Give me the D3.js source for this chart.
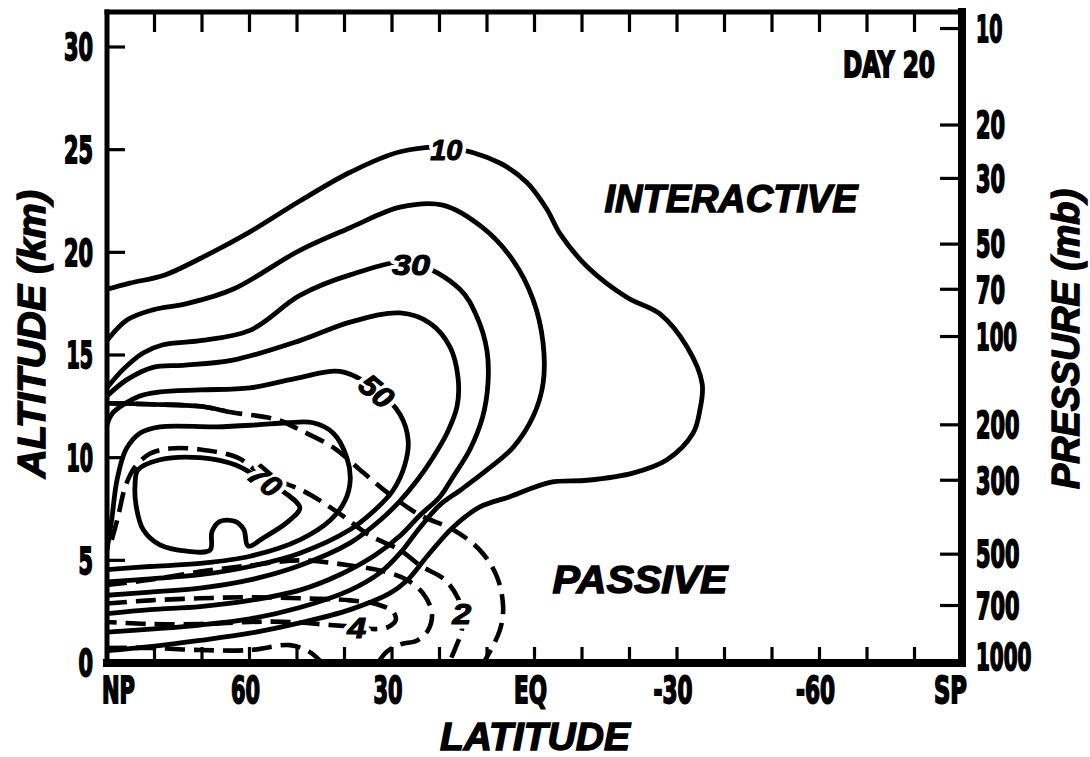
<!DOCTYPE html>
<html>
<head>
<meta charset="utf-8">
<script src="https://cdn.jsdelivr.net/npm/d3@7/dist/d3.min.js"></script>
<style>
html,body{margin:0;padding:0;background:#fff;}
svg{display:block;}
</style>
</head>
<body>
<svg id="chart" width="1090" height="757"></svg>
<script>
// ---------------- data ----------------
const latMinorTicks = [80,70,60,50,40,30,20,10,0,-10,-20,-30,-40,-50,-60,-70,-80];
const latLabelValues = [90,60,30,0,-30,-60,-90];
const latLabels = ["NP","60","30","EQ","-30","-60","SP"];
const altTicks = [0,5,10,15,20,25,30];
const altLabels = ["0","5","10","15","20","25","30"];
const pressureLabels = ["10","20","30","50","70","100","200","300","500","700","1000"];
const pressureAltitudes = [30.9,26.2,23.6,20.4,18.2,15.9,11.6,8.9,5.3,2.8,0.3];

// interactive (solid) contours: [latitude, altitude km]
const interactive10 = [[90,18.2],[85.2,18.5],[77.8,18.9],[70.4,19.7],[59.9,21.0],[49.4,22.5],[38.8,23.9],[28.3,24.9],[18.2,25.1],[7.3,24.35],[1.6,23.4],[-2.6,22.1],[-5.4,20.9],[-11.1,19.3],[-19.5,17.8],[-26.4,17.0],[-32.1,15.4],[-35.3,13.6],[-34.8,12.3],[-33.4,11.2],[-27.9,9.9],[-20.7,9.25],[-11.1,8.9],[-3.3,8.8],[5.2,8.1],[11.5,7.6],[17.2,6.6],[22.6,5.2],[26.9,4.0],[30.4,3.4],[38.8,2.6],[49.4,1.95],[59.9,1.45],[70.4,1.1],[80.9,0.8],[90,0.6]];
const interactive20 = [[90,15.7],[85.8,16.7],[80.3,17.2],[73.2,17.5],[63.5,18.2],[49.4,20.1],[38.8,21.2],[28.3,22.2],[19.3,22.3],[10.9,21.2],[4.5,19.6],[0.3,17.7],[-1.8,15.6],[-1.8,13.6],[0.3,12.0],[4.5,10.5],[10.0,9.4],[15.7,8.4],[19.9,7.7],[24.1,6.6],[28.3,5.35],[32.5,4.4],[38.8,3.55],[49.4,2.7],[59.9,2.15],[70.4,1.85],[80.9,1.65],[90,1.5]];
const interactive30 = [[90,13.4],[86.6,14.3],[82.4,15.1],[78.2,15.5],[70.4,15.7],[59.9,16.2],[49.4,17.9],[38.8,18.9],[26.2,19.5],[15.7,18.2],[12.1,16.85],[10.0,15.2],[9.8,13.6],[10.9,12.0],[13.6,10.4],[17.2,9.05],[19.9,8.1],[24.1,7.2],[28.3,6.2],[33.6,5.25],[41.0,4.3],[49.4,3.55],[59.9,3.05],[70.4,2.75],[80.9,2.6],[90,2.4]];
const interactive40 = [[90,13.0],[85.8,13.8],[80.3,14.4],[74.0,14.5],[63.5,14.75],[49.4,15.7],[38.8,16.6],[28.3,17.05],[22.0,16.55],[17.8,15.4],[16.1,13.9],[16.3,12.5],[18.4,11.2],[21.4,10.0],[24.7,8.9],[28.3,7.9],[32.5,6.95],[38.8,5.85],[49.4,4.75],[59.9,4.05],[70.4,3.65],[80.9,3.45],[90,3.3]];
const interactive50 = [[90,11.6],[88.7,12.2],[83.1,13.0],[78.85,13.2],[70.4,13.3],[59.9,13.4],[49.4,13.9],[41.0,14.2],[33.2,13.3],[28.3,12.1],[26.6,10.85],[27.3,9.65],[29.8,8.4],[33.6,7.45],[38.8,6.5],[49.4,5.35],[59.9,4.7],[70.4,4.3],[80.9,4.1],[90,3.95]];
const interactive60 = [[90,5.5],[89.0,7.0],[87.9,8.9],[86.0,10.4],[83.0,11.2],[78.85,11.5],[66.85,11.5],[58.4,11.6],[52.1,11.7],[46.6,11.7],[42.4,11.2],[39.5,10.0],[38.8,8.9],[39.9,7.9],[43.0,6.95],[49.4,6.0],[59.9,5.2],[70.4,4.85],[80.9,4.7],[90,4.55]];
const interactive70 = [[83.5,9.4],[78.85,9.9],[70.4,10.0],[63.05,9.65],[57.9,9.0],[52.0,8.2],[49.4,7.55],[52.1,6.85],[56.7,6.15],[60.3,5.7],[61.2,6.5],[63.1,6.9],[66.2,6.9],[67.9,6.4],[68.3,5.5],[73.2,5.45],[78.85,5.75],[82.4,6.5],[83.9,7.7],[84.1,8.65]];

// passive (dashed) contours
const passive1 = [[90,12.65],[80.9,12.6],[70.4,12.5],[63.5,12.2],[54.2,11.85],[49.4,11.35],[42.4,10.5],[36.7,9.4],[30.4,8.2],[24.1,7.2],[17.2,6.5],[11.5,5.5],[7.9,4.2],[6.6,2.7],[7.3,1.6],[10.0,0.3],[10.8,0.0]];
const passive2 = [[89.0,6.0],[87.7,7.1],[86.2,8.55],[84.1,9.55],[80.9,10.2],[76.7,10.45],[70.4,10.4],[62.5,10.0],[57.5,9.2],[48.85,8.4],[41.5,7.35],[34.6,6.2],[28.3,5.5],[24.1,4.75],[18.85,4.05],[16.1,3.15],[15.3,2.45],[15.3,1.6],[16.7,0.7],[18.0,0.0]];
const passive3 = [[90,3.8],[80.9,4.05],[70.4,4.45],[59.9,4.75],[49.4,5.0],[38.8,4.75],[31.5,4.45],[26.9,4.05],[23.5,3.4],[21.6,2.45],[22.4,1.6],[24.7,1.1],[28.3,0.9],[31.1,0.55],[33.0,0.0]];
const passive4 = [[90,2.9],[80.9,3.05],[70.4,3.15],[59.9,3.2],[49.4,3.15],[38.8,3.05],[33.0,2.85],[29.8,2.5],[29.2,2.1],[30.85,1.75],[33.6,1.65],[37.4,1.75],[43.0,1.85],[51.5,2.0],[59.9,2.0],[70.4,1.9],[80.9,1.9],[90,2.0]];
const passive5 = [[90,0.73],[80.9,0.73],[70.4,0.63],[59.9,0.63],[51.5,0.87],[47.3,0.53],[44.7,0.0]];

// contour labels
const contourLabelText = ["10","30","50","70","2","4"];
const contourLabelLat = [18.6,26.0,33.2,56.7,15.3,37.4];
const contourLabelAlt = [25.0,19.4,13.25,8.9,2.45,1.75];

// ---------------- drawing ----------------
const svg = d3.select("#chart");
svg.append("rect").attr("width",1090).attr("height",757).attr("fill","#fff");

const x = d3.scaleLinear().domain([90,-90]).range([107,962]);
const y = d3.scaleLinear().domain([0,30]).range([663,47]);
const plotTop = 12;

const condensed = "'Liberation Sans Narrow','DejaVu Sans Condensed','Liberation Sans',Arial,sans-serif";
const italicFont = "'Liberation Sans',Arial,sans-serif";

svg.append("defs").append("clipPath").attr("id","plotclip")
  .append("rect").attr("x",x(90)).attr("y",plotTop).attr("width",x(-90)-x(90)).attr("height",y(0)-plotTop);

const line = d3.line().x(d=>x(d[0])).y(d=>y(d[1])).curve(d3.curveCatmullRom.alpha(0.5));
const lineClosed = d3.line().x(d=>x(d[0])).y(d=>y(d[1])).curve(d3.curveCatmullRomClosed.alpha(0.5));

const g = svg.append("g").attr("clip-path","url(#plotclip)");

const solidOpen = [interactive10, interactive20, interactive30, interactive40, interactive50, interactive60];
g.selectAll(".solid").data(solidOpen).join("path")
  .attr("d", line).attr("fill","none").attr("stroke","#000").attr("stroke-width",4.8)
  .attr("stroke-linecap","round").attr("stroke-linejoin","round");
g.append("path").datum(interactive70).attr("d", lineClosed).attr("fill","none")
  .attr("stroke","#000").attr("stroke-width",4.8);

const passive = [passive1, passive2, passive3, passive4, passive5];
g.selectAll(".dashed").data(passive).join("path")
  .attr("d", line).attr("fill","none").attr("stroke","#000").attr("stroke-width",4.6)
  .attr("stroke-dasharray","20,9").attr("stroke-linecap","butt");
// continuous start of the outer passive contour near the pole
g.append("path").datum(passive1).attr("d", line).attr("fill","none").attr("stroke","#000")
  .attr("stroke-width",4.6).attr("stroke-dasharray","118,4000");

// contour labels with white halo
const labelRot = {"50":40,"70":40};
const labelLen = {"10":32,"30":38,"50":35,"70":33,"2":19,"4":19};
const labs = contourLabelText.map((t,i)=>({t, lat:contourLabelLat[i], alt:contourLabelAlt[i]}));
["halo","ink"].forEach(layer=>{
  svg.selectAll(".cl-"+layer).data(labs).join("text")
    .attr("transform", d=>`translate(${x(d.lat)},${y(d.alt)}) rotate(${labelRot[d.t]||0})`)
    .attr("text-anchor","middle").attr("dy","0.36em")
    .attr("font-family", italicFont).attr("font-weight","bold").attr("font-style","italic")
    .attr("font-size",30)
    .attr("textLength", d=>labelLen[d.t]).attr("lengthAdjust","spacingAndGlyphs")
    .attr("fill", layer==="halo" ? "#fff" : "#000")
    .attr("stroke", layer==="halo" ? "#fff" : "#000")
    .attr("stroke-width", layer==="halo" ? 9 : 1.1)
    .attr("stroke-linejoin","round")
    .text(d=>d.t);
});

// ---------------- frame & ticks ----------------
const frame = svg.append("g").attr("stroke","#000").attr("stroke-linecap","square");
frame.append("line").attr("x1",x(90)).attr("x2",x(-90)).attr("y1",plotTop).attr("y2",plotTop).attr("stroke-width",5);
frame.append("line").attr("x1",x(90)).attr("x2",x(-90)).attr("y1",y(0)).attr("y2",y(0)).attr("stroke-width",8);
frame.append("line").attr("x1",x(90)).attr("x2",x(90)).attr("y1",plotTop).attr("y2",y(0)).attr("stroke-width",5);
frame.append("line").attr("x1",x(-90)).attr("x2",x(-90)).attr("y1",plotTop).attr("y2",y(0)).attr("stroke-width",8);

const ticks = svg.append("g").attr("stroke","#000").attr("stroke-width",3.2);
ticks.selectAll(".tt").data(latMinorTicks).join("line")
  .attr("x1",d=>x(d)).attr("x2",d=>x(d)).attr("y1",plotTop).attr("y2",plotTop+20);
ticks.selectAll(".tb").data(latMinorTicks).join("line")
  .attr("x1",d=>x(d)).attr("x2",d=>x(d)).attr("y1",y(0)).attr("y2",y(0)-16);
ticks.selectAll(".tl").data(altTicks.filter(d=>d>0)).join("line")
  .attr("x1",x(90)).attr("x2",x(90)+18).attr("y1",d=>y(d)).attr("y2",d=>y(d));
ticks.selectAll(".tr").data(pressureAltitudes.slice(0,-1)).join("line")
  .attr("x1",x(-90)).attr("x2",x(-90)-22).attr("y1",d=>y(d)).attr("y2",d=>y(d));

function labelWidth(s){
  let w=0;
  for(const c of s){
    w += c==='1'?12 : c==='-'?10 : c===' '?8 : /[0-9]/.test(c)?14.5 : 16.5;
  }
  return w;
}
function tickText(sel){
  return sel.attr("font-family",condensed).attr("font-weight","bold").attr("font-size",37)
    .attr("fill","#000").attr("stroke","#000").attr("stroke-width",1.8)
    .attr("textLength",d=>labelWidth(d)).attr("lengthAdjust","spacingAndGlyphs");
}
// left altitude labels
tickText(svg.selectAll(".yl").data(altLabels).join("text"))
  .attr("x",93).attr("y",(d,i)=>y(altTicks[i])).attr("dy","0.36em").attr("text-anchor","end")
  .text(d=>d);
// right pressure labels
tickText(svg.selectAll(".pl").data(pressureLabels).join("text"))
  .attr("x",976).attr("y",(d,i)=>y(pressureAltitudes[i])).attr("dy","0.36em").attr("text-anchor","start")
  .text(d=>d);
// bottom latitude labels
tickText(svg.selectAll(".xl").data(latLabels).join("text"))
  .attr("x",(d,i)=> i===0 ? x(latLabelValues[i])-5 : i===latLabels.length-1 ? x(latLabelValues[i])+5 : x(latLabelValues[i])-4)
  .attr("y",703)
  .attr("text-anchor",(d,i)=> i===0 ? "start" : i===latLabels.length-1 ? "end" : "middle")
  .text(d=>d);

// DAY 20
tickText(svg.append("text").datum("DAY 20"))
  .attr("x",843).attr("y",77).attr("font-size",35).attr("textLength",92).text(d=>d);

// ---------------- titles ----------------
function titleText(sel, len){
  return sel.attr("font-family",italicFont).attr("font-weight","bold").attr("font-style","italic")
    .attr("font-size",38).attr("fill","#000").attr("stroke","#000").attr("stroke-width",1.4)
    .attr("text-anchor","middle").attr("textLength",len).attr("lengthAdjust","spacingAndGlyphs");
}
titleText(svg.append("text"),190).attr("x",535).attr("y",750).text("LATITUDE");
titleText(svg.append("text"),288).attr("transform","translate(45,334) rotate(-90)").text("ALTITUDE (km)");
titleText(svg.append("text"),300).attr("transform","translate(1079,339) rotate(-90)").text("PRESSURE (mb)");
titleText(svg.append("text"),253).attr("x",731).attr("y",212).text("INTERACTIVE");
titleText(svg.append("text"),175).attr("x",640).attr("y",593).text("PASSIVE");
</script>
</body>
</html>
